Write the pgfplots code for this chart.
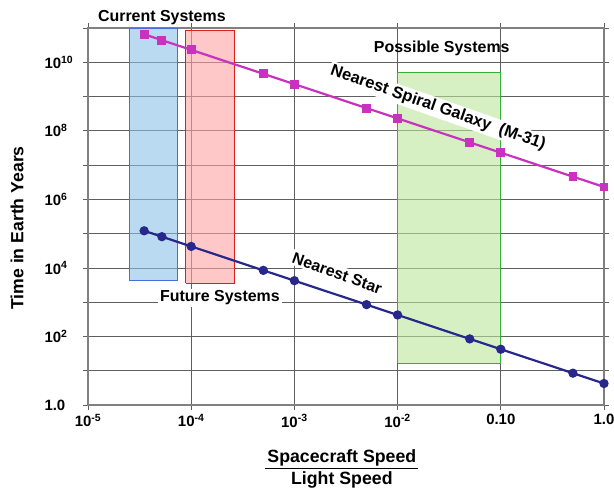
\documentclass[border=0pt]{standalone}
\usepackage{pgfplots}
\pgfplotsset{compat=1.18}
\usepackage{fontspec}
\setmainfont{Liberation Sans}
\definecolor{starline}{RGB}{40,40,140}
\definecolor{galline}{RGB}{200,50,190}
\definecolor{bluefill}{RGB}{138,193,230}
\definecolor{blueedge}{RGB}{70,110,220}
\definecolor{redfill}{RGB}{255,163,163}
\definecolor{rededge}{RGB}{220,30,30}
\definecolor{greenfill}{RGB}{188,230,155}
\definecolor{greenedge}{RGB}{50,180,50}
\definecolor{gridc}{RGB}{95,95,95}
\pgfplotstableread{
v T
3.5e-5 1.21e5
5.2e-5 8.15e4
1e-4 4.24e4
5e-4 8480
1e-3 4240
5e-3 848
1e-2 424
5e-2 84.8
0.1 42.4
0.5 8.48
1 4.24
}\stardata
\pgfplotstableread{
v T
3.5e-5 6.57e10
5.2e-5 4.42e10
1e-4 2.3e10
5e-4 4.6e9
1e-3 2.3e9
5e-3 4.6e8
1e-2 2.3e8
5e-2 4.6e7
0.1 2.3e7
0.5 4.6e6
1 2.3e6
}\galdata
\begin{document}
\begin{tikzpicture}
\begin{axis}[
  scale only axis, width=516bp, height=377bp,
  xmode=log, ymode=log,
  xmin=1e-5, xmax=1, ymin=1, ymax=1e11,
  xminorticks=false, yminorticks=false,
  xtick={1e-5,1e-4,1e-3,1e-2,1e-1,1},
  xticklabels={10\textsuperscript{-5},10\textsuperscript{-4},10\textsuperscript{-3},10\textsuperscript{-2},0.10,1.0},
  ytick={1,10,100,1000,1e4,1e5,1e6,1e7,1e8,1e9,1e10,1e11},
  yticklabels={1.0,{},10\textsuperscript{2},{},10\textsuperscript{4},{},10\textsuperscript{6},{},10\textsuperscript{8},{},10\textsuperscript{10},{}},
  grid=major,
  major grid style={gridc, line width=0.8bp},
  tick align=outside, major tick length=5bp,
  tick style={gridc, line width=0.8bp},
  axis line style={gray, line width=1.4bp},
  tick label style={font=\bfseries\fontsize{15}{18}\selectfont},
  yticklabel style={anchor=west, xshift=-42bp},
  xticklabel style={yshift=-1bp},
  clip=false,
]
\addplot[draw=blueedge, line width=1bp, fill=bluefill, fill opacity=0.6] coordinates {(2.55e-5,4.2e3) (7.3e-5,4.2e3) (7.3e-5,9.4e10) (2.55e-5,9.4e10) (2.55e-5,4.2e3)};
\addplot[draw=rededge, line width=1bp, fill=redfill, fill opacity=0.6] coordinates {(8.9e-5,3.6e3) (2.6e-4,3.6e3) (2.6e-4,8.2e10) (8.9e-5,8.2e10) (8.9e-5,3.6e3)};
\addplot[draw=greenedge, line width=1bp, fill=greenfill, fill opacity=0.6] coordinates {(1e-2,16.8) (1e-1,16.8) (1e-1,5.2e9) (1e-2,5.2e9) (1e-2,16.8)};
\node[fill=white, inner sep=2bp, rotate=-19.3, font=\bfseries\fontsize{16.5}{20}\selectfont] at (axis cs:0.02466,4.6e8) {Nearest Spiral Galaxy\ \ (M-31)};
\node[fill=white, inner sep=2bp, rotate=-20, font=\bfseries\fontsize{16}{20}\selectfont] at (axis cs:2.6e-3,7.1e3) {Nearest Star};
\addplot[galline, line width=2.2bp, mark=square*, mark size=3.3bp] table[x=v, y=T] {\galdata};
\addplot[starline, line width=2.2bp, mark=*, mark size=3.5bp] table[x=v, y=T] {\stardata};
\node[font=\bfseries\fontsize{16}{20}\selectfont] at (axis cs:5.2e-5,1.95e11) {Current Systems};
\node[font=\bfseries\fontsize{16}{20}\selectfont] at (axis cs:0.0268,2.6e10) {Possible Systems};
\node[fill=white, inner sep=2bp, font=\bfseries\fontsize{16}{20}\selectfont] at (axis cs:1.9e-4,1.32e3) {Future Systems};
\node[rotate=90, font=\bfseries\fontsize{17.7}{22}\selectfont] at (axis description cs:-0.1376,0.4695) {Time in Earth Years};
\node[font=\bfseries\fontsize{17.8}{22}\selectfont, inner sep=0pt] at (axis description cs:0.492,-0.171) {\setlength{\arrayrulewidth}{1.6bp}\setlength{\tabcolsep}{2bp}\begin{tabular}{c}Spacecraft Speed\\[-1.6bp]\hline Light Speed\end{tabular}};
\end{axis}
\pgfresetboundingbox
\path[use as bounding box] (-88bp,-83bp) rectangle (526bp,405bp);
\end{tikzpicture}
\end{document}
